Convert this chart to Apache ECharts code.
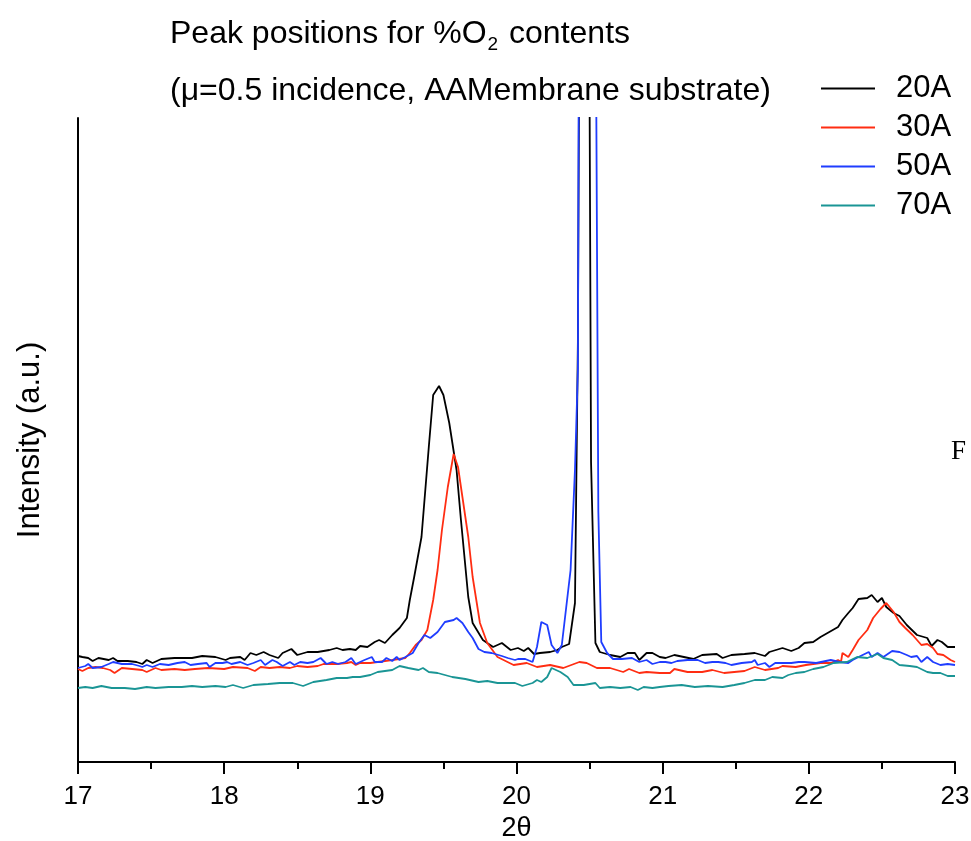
<!DOCTYPE html>
<html>
<head>
  <meta charset="UTF-8">
  <title>Peak positions for %O2 contents</title>
  <script src="https://cdn.jsdelivr.net/npm/echarts@6/dist/echarts.min.js"></script>
  <style>
    html, body { margin: 0; height: 100%; width: 100%; background: #fff; }
    #chart { width: 971px; height: 841px; }
  </style>
</head>
<body>
  <div id="chart"></div>
  <script>
    // series names (legend)
    const names = ['20A', '30A', '50A', '70A'];
    const colors = ['#000000', '#ff2d12', '#1f3dff', '#1a9595'];

    // x axis ticks
    const xMin = 17, xMax = 23, xStep = 1;

    // intensity readings, [2theta, counts in arbitrary units]
    const s20A = [[17.00,106],[17.03,105],[17.07,104],[17.10,101],[17.14,104],[17.21,102],[17.24,104],[17.27,101],[17.34,101],[17.40,100],[17.44,98],[17.47,102],[17.51,99],[17.57,103],[17.66,104],[17.73,104],[17.78,104],[17.85,106],[17.94,105],[18.01,102],[18.04,104],[18.11,105],[18.14,102],[18.18,109],[18.22,107],[18.27,110],[18.31,107],[18.37,104],[18.40,109],[18.46,113],[18.50,107],[18.57,110],[18.64,110],[18.72,112],[18.77,114],[18.81,112],[18.86,113],[18.90,112],[18.93,116],[18.98,115],[19.03,120],[19.06,122],[19.10,119],[19.15,127],[19.20,134],[19.25,144],[19.27,162],[19.30,185],[19.35,225],[19.40,315],[19.43,367],[19.47,376],[19.50,367],[19.54,339],[19.59,292],[19.62,242],[19.67,165],[19.70,139],[19.77,122],[19.84,115],[19.90,119],[19.96,112],[20.01,114],[20.05,111],[20.08,114],[20.12,108],[20.16,109],[20.23,110],[20.28,112],[20.31,115],[20.36,118],[20.40,159],[20.42,420],[20.45,1400],[20.48,1400],[20.51,300],[20.54,119],[20.57,110],[20.64,107],[20.71,105],[20.76,109],[20.81,109],[20.84,102],[20.89,109],[20.93,109],[20.98,105],[21.02,104],[21.08,107],[21.21,103],[21.27,107],[21.37,108],[21.41,104],[21.47,107],[21.56,108],[21.63,109],[21.70,106],[21.73,110],[21.82,114],[21.88,111],[21.93,114],[21.97,119],[22.03,120],[22.08,125],[22.14,130],[22.20,135],[22.23,142],[22.27,149],[22.30,154],[22.34,163],[22.40,164],[22.43,167],[22.47,160],[22.50,164],[22.53,155],[22.58,149],[22.62,146],[22.67,137],[22.74,127],[22.81,124],[22.84,116],[22.88,122],[22.91,120],[22.95,115],[23.00,115]];

    const s30A = [[17.00,93],[17.03,91],[17.07,94],[17.12,95],[17.17,94],[17.22,92],[17.25,89],[17.30,94],[17.37,93],[17.44,92],[17.47,90],[17.53,94],[17.57,92],[17.66,93],[17.73,92],[17.80,93],[17.89,94],[18.00,93],[18.06,95],[18.16,94],[18.21,91],[18.25,95],[18.31,94],[18.38,95],[18.45,94],[18.50,96],[18.57,95],[18.64,96],[18.68,98],[18.77,98],[18.84,99],[18.87,100],[18.90,97],[18.93,99],[19.00,99],[19.05,100],[19.15,102],[19.24,104],[19.27,109],[19.31,117],[19.35,122],[19.39,132],[19.43,162],[19.46,192],[19.49,232],[19.53,275],[19.57,308],[19.60,295],[19.63,265],[19.67,225],[19.70,185],[19.75,139],[19.80,119],[19.87,105],[19.98,97],[20.07,99],[20.14,95],[20.23,97],[20.32,94],[20.43,100],[20.48,99],[20.55,94],[20.64,94],[20.73,90],[20.77,93],[20.84,89],[20.89,90],[20.98,89],[21.05,89],[21.08,93],[21.17,90],[21.27,90],[21.34,92],[21.42,89],[21.49,90],[21.56,91],[21.63,95],[21.70,92],[21.79,94],[21.82,96],[21.91,95],[21.98,97],[22.08,99],[22.15,99],[22.20,102],[22.22,100],[22.23,109],[22.27,105],[22.30,112],[22.34,122],[22.40,132],[22.44,144],[22.49,153],[22.53,159],[22.58,150],[22.62,140],[22.66,134],[22.71,127],[22.77,117],[22.81,118],[22.85,114],[22.88,108],[22.92,107],[22.97,102],[23.00,100]];

    const s50A = [[17.00,94],[17.05,96],[17.07,98],[17.10,94],[17.16,95],[17.21,98],[17.24,100],[17.30,98],[17.37,98],[17.42,96],[17.44,95],[17.47,97],[17.51,95],[17.56,98],[17.62,97],[17.68,99],[17.73,100],[17.77,97],[17.82,98],[17.88,99],[17.90,95],[17.94,99],[17.99,99],[18.02,100],[18.05,98],[18.11,100],[18.16,97],[18.20,99],[18.25,102],[18.28,97],[18.33,102],[18.36,100],[18.40,96],[18.45,100],[18.48,97],[18.52,100],[18.57,99],[18.61,100],[18.66,104],[18.70,98],[18.74,100],[18.78,98],[18.83,100],[18.87,104],[18.90,98],[18.93,100],[18.96,102],[19.01,105],[19.03,100],[19.08,100],[19.11,104],[19.15,101],[19.18,105],[19.20,102],[19.24,105],[19.29,109],[19.33,119],[19.37,127],[19.41,124],[19.46,130],[19.51,140],[19.57,142],[19.59,144],[19.63,139],[19.67,130],[19.70,124],[19.74,113],[19.78,110],[19.83,109],[19.90,106],[19.94,104],[19.99,102],[20.01,103],[20.06,103],[20.11,100],[20.14,115],[20.17,140],[20.21,137],[20.24,117],[20.28,109],[20.31,117],[20.37,192],[20.40,292],[20.42,392],[20.44,1400],[20.52,1400],[20.56,250],[20.58,120],[20.62,109],[20.66,103],[20.72,103],[20.79,104],[20.84,100],[20.89,102],[20.93,98],[20.98,100],[21.02,100],[21.06,99],[21.10,101],[21.17,102],[21.24,102],[21.29,99],[21.34,100],[21.38,100],[21.43,99],[21.47,97],[21.54,99],[21.61,100],[21.63,102],[21.65,97],[21.70,99],[21.73,95],[21.77,99],[21.84,99],[21.88,99],[21.93,100],[21.97,100],[22.05,99],[22.15,102],[22.21,100],[22.27,99],[22.30,102],[22.34,105],[22.41,110],[22.43,105],[22.47,109],[22.51,105],[22.57,111],[22.62,110],[22.67,107],[22.70,105],[22.74,106],[22.77,100],[22.81,105],[22.85,100],[22.90,97],[22.95,98],[23.00,97]];

    const s70A = [[17.00,74],[17.05,75],[17.10,74],[17.16,76],[17.23,74],[17.32,74],[17.39,73],[17.47,75],[17.53,74],[17.62,75],[17.71,75],[17.78,76],[17.85,75],[17.94,76],[18.01,75],[18.06,77],[18.13,74],[18.20,77],[18.30,78],[18.38,79],[18.47,79],[18.54,76],[18.61,80],[18.70,82],[18.77,84],[18.84,84],[18.88,85],[18.93,85],[19.00,87],[19.05,90],[19.15,92],[19.20,96],[19.26,94],[19.33,92],[19.36,94],[19.40,90],[19.46,89],[19.56,85],[19.65,83],[19.74,80],[19.80,81],[19.87,79],[19.99,79],[20.04,76],[20.11,79],[20.14,82],[20.17,80],[20.21,85],[20.24,94],[20.30,90],[20.35,85],[20.39,77],[20.46,77],[20.54,79],[20.57,74],[20.64,75],[20.71,74],[20.78,75],[20.83,72],[20.87,75],[20.93,74],[20.98,75],[21.04,76],[21.13,77],[21.22,75],[21.31,76],[21.41,75],[21.49,77],[21.56,79],[21.63,82],[21.70,82],[21.75,85],[21.82,84],[21.86,87],[21.91,89],[21.97,90],[22.03,93],[22.10,95],[22.17,99],[22.26,100],[22.33,105],[22.40,104],[22.47,108],[22.51,104],[22.57,102],[22.62,97],[22.69,96],[22.74,95],[22.81,90],[22.85,89],[22.90,89],[22.95,86],[23.00,86]];

    const allSeries = [s20A, s30A, s50A, s70A];

    const font = 'Liberation Sans, Arial, sans-serif';

    const chart = echarts.init(document.getElementById('chart'));
    chart.setOption({
      animation: false,
      backgroundColor: '#fff',
      title: [
        {
          text: '{a|Peak positions for %O}{s|2}{a| contents}',
          left: 165,
          top: 12,
          textStyle: {
            rich: {
              a: { fontSize: 32, fontFamily: font, fontWeight: 'normal', color: '#000', lineHeight: 34 },
              s: { fontSize: 19, fontFamily: font, fontWeight: 'normal', color: '#000', lineHeight: 20, padding: [22, 2, 0, 1] }
            }
          }
        },
        {
          text: '(\u03bc=0.5 incidence, AAMembrane substrate)',
          left: 165,
          top: 70,
          textStyle: { fontSize: 32, fontFamily: font, color: '#000', fontWeight: 'normal' }
        }
      ],
      legend: {
        data: names,
        orient: 'vertical',
        left: 816,
        top: 68,
        icon: 'rect',
        itemWidth: 54,
        itemHeight: 2,
        itemGap: 8,
        textStyle: { fontSize: 31, fontFamily: font, color: '#000', padding: [0, 0, 0, 16] }
      },
      graphic: [{
        type: 'text',
        left: 951,
        top: 438,
        style: { text: 'F', fontSize: 27, fontFamily: 'Liberation Serif, serif', fill: '#000' }
      }],
      grid: { left: 78, right: 16, top: 118, bottom: 79, outerBoundsMode: 'none', containLabel: false },
      xAxis: {
        type: 'value',
        min: xMin,
        max: xMax,
        interval: xStep,
        name: '2\u03b8',
        nameLocation: 'middle',
        nameGap: 52,
        nameTextStyle: { fontSize: 27, fontFamily: font, color: '#000' },
        axisLine: { lineStyle: { color: '#000', width: 2 } },
        axisTick: { length: 12, lineStyle: { color: '#000', width: 2 } },
        minorTick: { show: true, splitNumber: 2, length: 7, lineStyle: { color: '#000', width: 2 } },
        splitLine: { show: false },
        axisLabel: { fontSize: 26, fontFamily: font, color: '#000', margin: 22 }
      },
      yAxis: {
        type: 'value',
        min: 0,
        max: 644,
        name: 'Intensity (a.u.)',
        nameLocation: 'middle',
        nameGap: 32,
        nameTextStyle: { fontSize: 31, fontFamily: font, color: '#000' },
        axisLine: { show: true, lineStyle: { color: '#000', width: 2 } },
        axisTick: { show: false },
        axisLabel: { show: false },
        splitLine: { show: false }
      },
      series: names.map((n, i) => ({
        name: n,
        type: 'line',
        data: allSeries[i],
        showSymbol: false,
        symbol: 'none',
        clip: true,
        color: colors[i],
        lineStyle: { color: colors[i], width: 1.8 }
      }))
    });
  </script>
</body>
</html>
